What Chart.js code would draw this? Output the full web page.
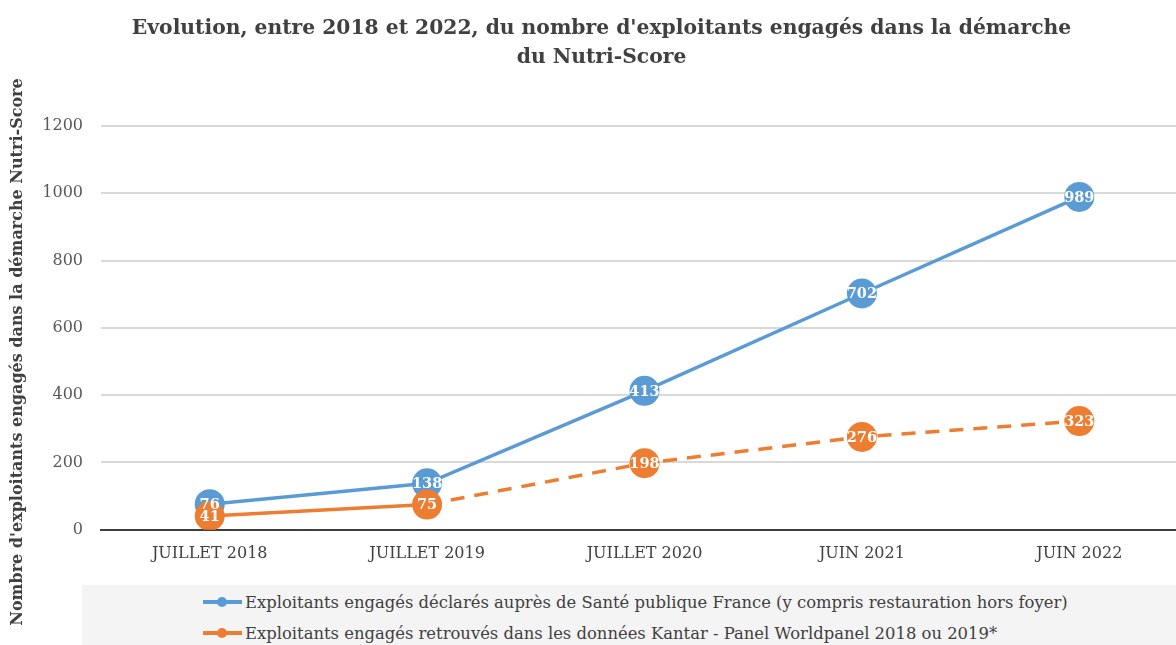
<!DOCTYPE html>
<html>
<head>
<meta charset="utf-8">
<script src="https://cdn.jsdelivr.net/npm/chart.js@4.4.1/dist/chart.umd.min.js"></script>
<style>
  html, body { margin: 0; padding: 0; background: #fff; overflow: hidden; }
  #wrap { position: relative; width: 1203px; height: 645px; }
  #legend {
    position: absolute; left: 82px; top: 585px; width: 1094px; height: 60px;
    background: #f4f4f4; font-family: 'DejaVu Serif', serif; font-size: 16.4px; color: #404040;
  }
  .item { position: absolute; left: 121px; height: 20px; display: flex; align-items: center; white-space: nowrap; }
  .mark { position: relative; width: 39px; height: 20px; margin-right: 3px; }
  .mark .ln { position: absolute; left: 0; top: 8px; width: 39px; height: 4px; }
  .mark .dot { position: absolute; left: 14px; top: 5px; width: 10px; height: 10px; border-radius: 50%; }
</style>
</head>
<body>
<div id="wrap">
  <canvas id="chartNutri" width="1203" height="645"></canvas>
  <div id="legend"></div>
</div>
<script>
const periods = ['JUILLET 2018', 'JUILLET 2019', 'JUILLET 2020', 'JUIN 2021', 'JUIN 2022']
const spfData = [76, 138, 413, 702, 989]
const kantarData = [41, 75, 198, 276, 323]
const spfLabel = 'Exploitants engagés déclarés auprès de Santé publique France (y compris restauration hors foyer)'
const kantarLabel = 'Exploitants engagés retrouvés dans les données Kantar - Panel Worldpanel 2018 ou 2019*'
const yTicks = [0, 200, 400, 600, 800, 1000, 1200]

const blue = '#5b9bd5'
const orange = '#ed7d31'
const serif = "'DejaVu Serif', serif"

// white numbers inside the circles
const pointLabels = {
    id: 'pointLabels',
    afterDatasetsDraw(chart) {
        const ctx = chart.ctx
        ctx.save()
        ctx.font = 'bold 14.5px ' + serif
        ctx.fillStyle = '#fff'
        ctx.textAlign = 'center'
        ctx.textBaseline = 'middle'
        chart.data.datasets.forEach((ds, i) => {
            chart.getDatasetMeta(i).data.forEach((pt, j) => {
                ctx.fillText(ds.data[j], pt.x, pt.y + 1)
            })
        })
        ctx.restore()
    }
}

// vertical axis title, centred on the whole figure height like the original
const yTitle = {
    id: 'yTitle',
    afterDraw(chart) {
        const ctx = chart.ctx
        ctx.save()
        ctx.translate(18, 352)
        ctx.rotate(-Math.PI / 2)
        ctx.font = 'bold 16px ' + serif
        ctx.fillStyle = '#404040'
        ctx.textAlign = 'center'
        ctx.textBaseline = 'middle'
        ctx.fillText("Nombre d'exploitants engagés dans la démarche Nutri-Score", 0, 0)
        ctx.restore()
    }
}

var ctxNutri = document.getElementById('chartNutri').getContext('2d');
var chartNutri = new Chart(ctxNutri, {
    type: 'line',
    data: {
        labels: periods,
        datasets: [
            {
                label: spfLabel,
                data: spfData,
                borderColor: blue,
                backgroundColor: blue,
                borderWidth: 3.5,
                pointRadius: 15,
                pointBorderWidth: 0,
                order: 1
            },
            {
                label: kantarLabel,
                data: kantarData,
                borderColor: orange,
                backgroundColor: orange,
                borderWidth: 3.5,
                pointRadius: 15,
                pointBorderWidth: 0,
                segment: {
                    borderDash: c => c.p0DataIndex >= 1 ? [14, 10] : undefined
                },
                order: 0
            }
        ]
    },
    options: {
        responsive: false,
        animation: false,
        layout: { padding: { left: 0, right: 0, top: 0, bottom: 68 } },
        plugins: {
            legend: { display: false },
            tooltip: { enabled: false },
            title: {
                display: true,
                text: ["Evolution, entre 2018 et 2022, du nombre d'exploitants engagés dans la démarche", 'du Nutri-Score'],
                color: '#404040',
                font: { family: serif, size: 20.3, weight: 'bold', lineHeight: 1.45 },
                padding: { top: 14, bottom: 53 }
            }
        },
        scales: {
            x: {
                offset: true,
                grid: { display: false, drawTicks: false },
                border: { display: true, color: '#3f3f3f', width: 2 },
                ticks: { color: '#404040', padding: 14, font: { family: serif, size: 16 } }
            },
            y: {
                min: 0,
                max: 1200,
                afterFit: s => { s.width = 101 },
                afterBuildTicks: s => { s.ticks = yTicks.map(v => ({ value: v })) },
                grid: { color: c => c.tick.value === 0 ? '#3f3f3f' : '#d9d9d9', lineWidth: 2, drawTicks: false },
                border: { display: false },
                ticks: {
                    color: '#595959', padding: 18, font: { family: serif, size: 16 },
                    callback: v => String(v)
                }
            }
        }
    },
    plugins: [pointLabels, yTitle]
});

// legend block at the bottom, grey band
const legendBox = document.getElementById('legend')
chartNutri.data.datasets.forEach((ds, i) => {
    const item = document.createElement('div')
    item.className = 'item'
    item.style.top = (7 + i * 31) + 'px'
    item.innerHTML = '<span class="mark"><span class="ln" style="background:' + ds.borderColor +
        '"></span><span class="dot" style="background:' + ds.borderColor + '"></span></span>' + ds.label
    legendBox.appendChild(item)
})
</script>
</body>
</html>
